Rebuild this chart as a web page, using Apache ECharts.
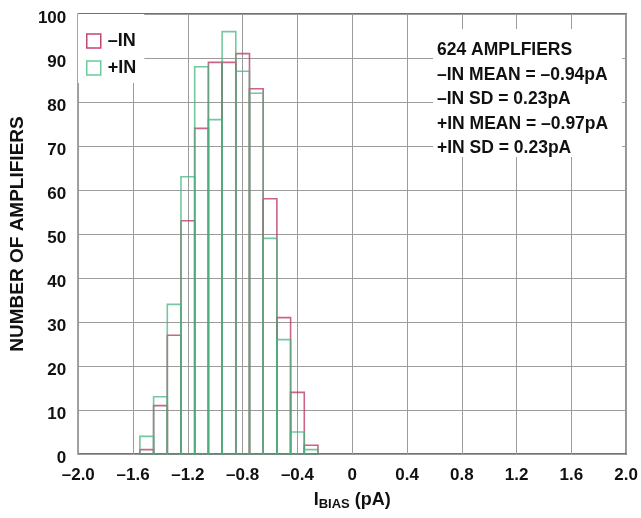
<!DOCTYPE html>
<html>
<head>
<meta charset="utf-8">
<script src="https://cdn.jsdelivr.net/npm/echarts@6/dist/echarts.min.js"></script>
<style>html,body{margin:0;padding:0;background:#fff}#c{width:641px;height:518px}</style>
</head>
<body>
<div id="c"></div>
<script>
// Bin centers (pA), bin width 0.1 pA
const binCenters = [-1.5, -1.4, -1.3, -1.2, -1.1, -1.0, -0.9, -0.8, -0.7, -0.6, -0.5, -0.4, -0.3];
const minusIN = [1, 11, 27, 53, 74, 89, 89, 91, 83, 58, 31, 14, 2];
const plusIN  = [4, 13, 34, 63, 88, 76, 96, 87, 82, 49, 26, 5, 1];
const binWidth = 0.1;
const xTicks = [-2.0, -1.6, -1.2, -0.8, -0.4, 0, 0.4, 0.8, 1.2, 1.6, 2.0];
const yTicks = [0, 10, 20, 30, 40, 50, 60, 70, 80, 90, 100];
const statsLines = ['624 AMPLFIERS', '–IN MEAN = –0.94pA', '–IN SD = 0.23pA', '+IN MEAN = –0.97pA', '+IN SD = 0.23pA'];

const RED = '#b8325f', GREEN = '#47b47f';
const FONT = 'Liberation Sans, Arial, sans-serif';

function fmt(v) {
  if (Math.abs(v) < 1e-9) return '0';
  return (v < 0 ? '–' : '') + Math.abs(v).toFixed(1);
}

function makeRender(color, opacity) {
  return function (params, api) {
    const c = api.value(0), n = api.value(1);
    const p0 = api.coord([c - binWidth / 2, n]);
    const p1 = api.coord([c + binWidth / 2, 0]);
    return {
      type: 'rect',
      shape: { x: p0[0], y: p0[1], width: p1[0] - p0[0], height: p1[1] - p0[1] },
      style: { fill: 'none', stroke: color, lineWidth: 1.6, opacity: opacity }
    };
  };
}

const chart = echarts.init(document.getElementById('c'), null, { renderer: 'canvas' });
chart.setOption({
  animation: false,
  backgroundColor: '#fff',
  textStyle: { fontFamily: FONT },
  grid: { left: 77.5, right: 14.5, top: 14, bottom: 64, show: true, borderColor: '#444', borderWidth: 1.5, backgroundColor: 'transparent' },
  xAxis: {
    type: 'value', min: xTicks[0], max: xTicks[xTicks.length - 1], interval: 0.4,
    axisLine: { show: false }, axisTick: { show: false },
    splitLine: { show: true, lineStyle: { color: '#9c9c9c', width: 1 } },
    axisLabel: { formatter: fmt, color: '#111', fontWeight: 'bold', fontSize: 17, margin: 13, fontFamily: FONT },
    name: '{a|I}{b|BIAS}{a| (pA)}', nameLocation: 'middle', nameGap: 37,
    nameTextStyle: {
      rich: {
        a: { fontSize: 18, fontWeight: 'bold', color: '#111', lineHeight: 20, verticalAlign: 'top', fontFamily: FONT },
        b: { fontSize: 13, fontWeight: 'bold', color: '#111', lineHeight: 8, verticalAlign: 'bottom', fontFamily: FONT }
      }
    }
  },
  yAxis: {
    type: 'value', min: yTicks[0], max: yTicks[yTicks.length - 1], interval: 10,
    axisLine: { show: false }, axisTick: { show: false },
    splitLine: { show: true, lineStyle: { color: '#9c9c9c', width: 1 } },
    axisLabel: { color: '#111', fontWeight: 'bold', fontSize: 17, margin: 12, verticalAlign: 'top', lineHeight: 8, fontFamily: FONT },
    name: 'NUMBER OF AMPLIFIERS', nameLocation: 'middle', nameGap: 51, nameRotate: 90,
    nameTextStyle: { fontSize: 19, fontWeight: 'bold', color: '#111', fontFamily: FONT }
  },
  legend: {
    orient: 'vertical', left: 78, top: 14,
    backgroundColor: '#fff',
    padding: [18, 8, 6, 8],
    itemGap: 9, itemWidth: 14, itemHeight: 14,
    icon: 'rect',
    textStyle: { fontSize: 18, fontWeight: 'bold', color: '#111', fontFamily: FONT, padding: [0, 0, 0, 2] },
    data: [
      { name: '–IN', itemStyle: { color: '#fff', borderColor: '#c0476f', borderWidth: 1.5 } },
      { name: '+IN', itemStyle: { color: '#fff', borderColor: '#6ccc9c', borderWidth: 1.5 } }
    ]
  },
  graphic: [
    { type: 'rect', left: 433, top: 29, z: 50, shape: { width: 189, height: 128 }, style: { fill: '#fff' } },
    { type: 'text', left: 437, top: 38, z: 51,
      style: { text: statsLines.join('\n'), font: 'bold 17.5px ' + FONT, lineHeight: 24.5, fill: '#111' } }
  ],
  series: [
    { name: '–IN', type: 'custom', itemStyle: { color: RED }, renderItem: makeRender(RED, 0.75),
      data: binCenters.map((c, i) => [c, minusIN[i]]), z: 3 },
    { name: '+IN', type: 'custom', itemStyle: { color: GREEN }, renderItem: makeRender(GREEN, 0.75),
      data: binCenters.map((c, i) => [c, plusIN[i]]), z: 4 }
  ]
});
</script>
</body>
</html>
